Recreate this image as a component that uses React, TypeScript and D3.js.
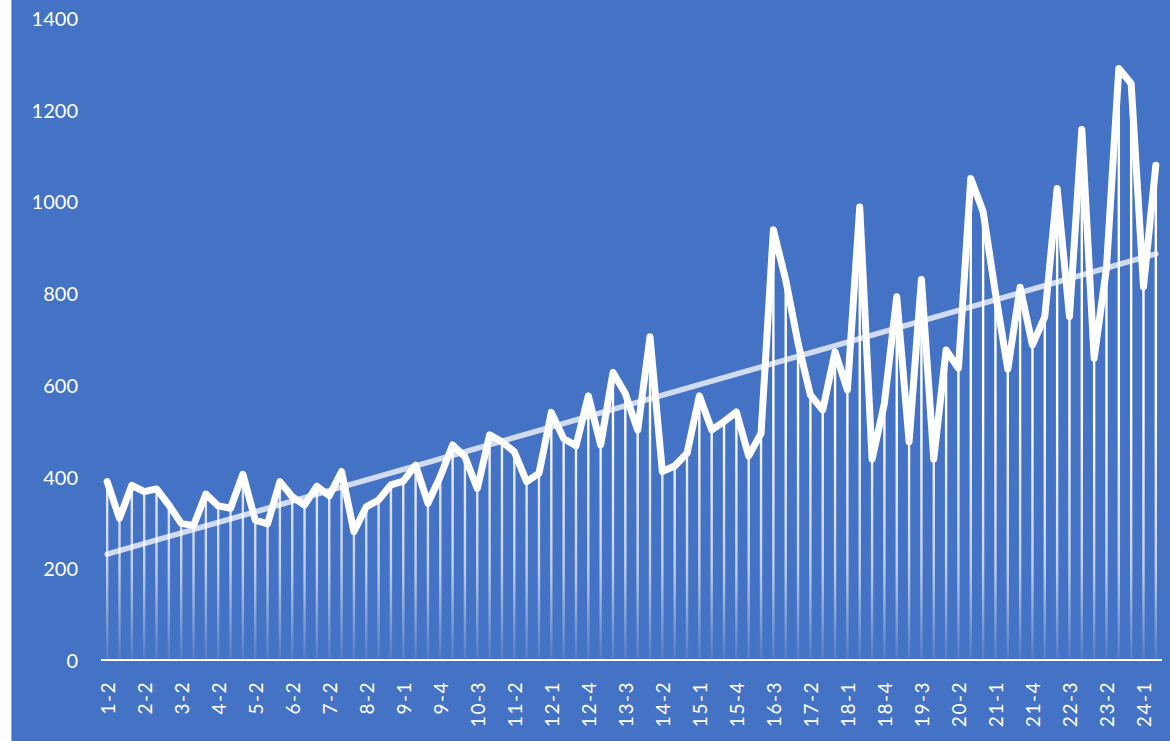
import React from "react";
import * as d3 from "d3";

const categories: string[] = [
  "1-2","1-3","1-4","2-2","2-3","2-4","3-2","3-3","3-4","4-2","4-3","4-4",
  "5-2","5-3","5-4","6-2","6-3","6-4","7-2","7-3","7-4","8-2","8-3","8-4",
  "9-1","9-2","9-3","9-4","10-1","10-2","10-3","10-4","11-1","11-2","11-3","11-4",
  "12-1","12-2","12-3","12-4","13-1","13-2","13-3","13-4","14-1","14-2","14-3","14-4",
  "15-1","15-2","15-3","15-4","16-1","16-2","16-3","16-4","17-1","17-2","17-3","17-4",
  "18-1","18-2","18-3","18-4","19-1","19-2","19-3","19-4","20-1","20-2","20-3","20-4",
  "21-1","21-2","21-3","21-4","22-1","22-2","22-3","22-4","23-1","23-2","23-3","23-4",
  "24-1","24-2"
];

const values: number[] = [
  389,309,381,367,373,338,298,293,362,336,331,405,
  305,297,389,356,338,379,358,411,280,334,349,382,
  390,425,342,400,469,443,374,491,476,454,389,407,
  540,483,467,576,469,627,581,501,705,411,423,451,
  576,502,520,541,445,494,938,829,691,578,545,672,
  589,988,438,560,792,476,830,438,676,636,1050,978,
  800,634,813,687,749,1028,749,1157,658,855,1290,1257,
  814,1079
];

const yTicks: number[] = [0, 200, 400, 600, 800, 1000, 1200, 1400];

const W = 1170;
const H = 741;
const BG = "#4472C4";
const FONT = "Lato, 'Open Sans', sans-serif";

export default function App() {
  const x = d3.scalePoint<string>().domain(categories).range([101, 1162]).padding(0.5);
  const y = d3.scaleLinear().domain([0, 1400]).range([660, 18]);

  const pts = values.map((v, i) => [x(categories[i]) as number, y(v)] as [number, number]);
  const line = d3.line<[number, number]>().x((d) => d[0]).y((d) => d[1]);

  // linear trend (least squares on index)
  const n = values.length;
  const mx = d3.mean(values.map((_, i) => i)) as number;
  const my = d3.mean(values) as number;
  let sxy = 0, sxx = 0;
  values.forEach((v, i) => { sxy += (i - mx) * (v - my); sxx += (i - mx) * (i - mx); });
  const slope = sxy / sxx;
  const icpt = my - slope * mx;
  const trendPts: [number, number][] = [
    [x(categories[0]) as number, y(icpt)],
    [x(categories[n - 1]) as number, y(icpt + slope * (n - 1))],
  ];

  return (
    <svg width={W} height={H} style={{ position: "absolute", left: 0, top: 0, display: "block" }}>
      <defs>
        <linearGradient id="dropGrad" gradientUnits="userSpaceOnUse" x1="0" y1={18} x2="0" y2={660}>
          <stop offset="0" stopColor="#fff" stopOpacity={1} />
          <stop offset="0.62" stopColor="#fff" stopOpacity={1} />
          <stop offset="0.86" stopColor="#fff" stopOpacity={0.65} />
          <stop offset="1" stopColor="#fff" stopOpacity={0.06} />
        </linearGradient>
      </defs>
      <rect x={0} y={0} width={W} height={H} fill="#fff" />
      <rect x={11.5} y={-1} width={W} height={H + 2} fill={BG} stroke="#8FAADC" strokeWidth={1} />

      {/* y tick labels */}
      {yTicks.map((t) => (
        <text key={t} x={78} y={y(t)} fill="#fff" fontFamily={FONT} fontSize={20}
          textAnchor="end" dominantBaseline="central">{t}</text>
      ))}

      {/* drop lines */}
      {pts.map((p, i) => (
        <line key={i} x1={p[0]} x2={p[0]} y1={p[1]} y2={y(0)} stroke="url(#dropGrad)" strokeWidth={2.4} />
      ))}

      {/* axis */}
      <line x1={101} x2={1162} y1={y(0)} y2={y(0)} stroke="#fff" strokeWidth={2} />

      {/* x tick labels */}
      {categories.map((c, i) =>
        i % 3 === 0 ? (
          <text key={c} transform={`translate(${x(c)},681) rotate(-90)`} fill="#fff" fontFamily={FONT}
            fontSize={19} letterSpacing={1.5} textAnchor="end" dominantBaseline="central">{c}</text>
        ) : null
      )}

      {/* trend line */}
      <path d={line(trendPts) as string} fill="none" stroke="#fff" strokeOpacity={0.75} strokeWidth={5.5} strokeLinecap="round" />

      {/* main line */}
      <path d={line(pts) as string} fill="none" stroke="#fff" strokeWidth={7} strokeLinejoin="round" strokeLinecap="round" />
    </svg>
  );
}
